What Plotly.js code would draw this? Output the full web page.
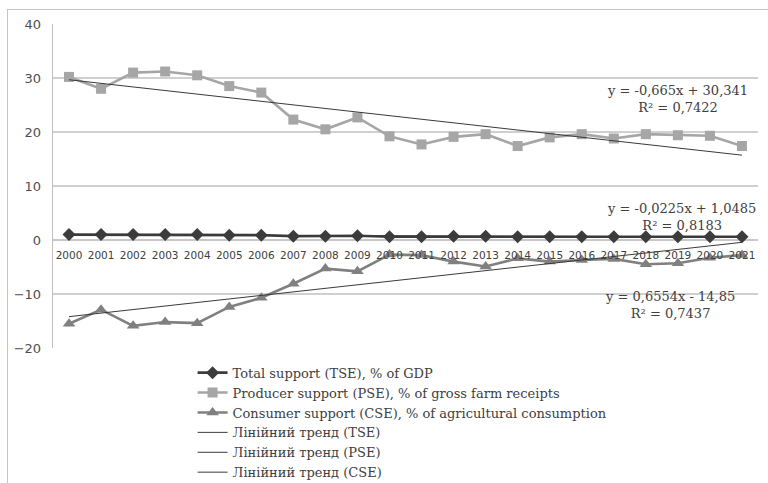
<!DOCTYPE html>
<html>
<head>
<meta charset="utf-8">
<script src="https://cdn.plot.ly/plotly-3.0.1.min.js"></script>
<style>
  html, body { margin: 0; padding: 0; background: #fff; width: 768px; height: 483px; overflow: hidden; }
  #frame { position: absolute; left: 7px; top: 9px; width: 820px; height: 540px; border: 1px solid #c4c4c4; }
  #chart { position: absolute; left: 0; top: 0; width: 768px; height: 483px; }
</style>
</head>
<body>
<div id="frame"></div>
<div id="chart"></div>
<script>
// Support estimates, 2000-2021
const years = ['2000','2001','2002','2003','2004','2005','2006','2007','2008','2009','2010',
               '2011','2012','2013','2014','2015','2016','2017','2018','2019','2020','2021'];
const tse = [1.0, 1.0, 1.0, 1.0, 1.0, 0.9, 0.9, 0.7, 0.7, 0.8, 0.6,
             0.6, 0.7, 0.7, 0.6, 0.6, 0.6, 0.6, 0.6, 0.6, 0.6, 0.6];
const pse = [30.2, 28.0, 31.0, 31.2, 30.5, 28.5, 27.3, 22.3, 20.5, 22.7, 19.2,
             17.7, 19.1, 19.6, 17.4, 19.0, 19.6, 18.8, 19.6, 19.4, 19.3, 17.4];
const cse = [-15.5, -12.9, -15.9, -15.2, -15.4, -12.4, -10.7, -8.1, -5.3, -5.8, -2.7,
             -2.8, -4.0, -4.9, -3.4, -4.0, -3.7, -3.5, -4.5, -4.3, -3.3, -2.8];

// Linear trend coefficients (x = 1..22)
const trendSlope = { TSE: -0.0225, PSE: -0.665, CSE: 0.6554 };
const trendIntercept = { TSE: 1.0485, PSE: 30.341, CSE: -14.85 };
const trendR2 = { TSE: '0,8183', PSE: '0,7422', CSE: '0,7437' };

const seriesNames = [
  'Total support (TSE), % of GDP',
  'Producer support (PSE), % of gross farm receipts',
  'Consumer support (CSE), % of agricultural consumption'
];
const trendNames = ['Лінійний тренд (TSE)', 'Лінійний тренд (PSE)', 'Лінійний тренд (CSE)'];

const yMin = -20, yMax = 40;

function trendLine(key) {
  return years.map((_, i) => trendSlope[key] * (i + 1) + trendIntercept[key]);
}
function fmt(v) { return String(Math.abs(v)).replace('.', ','); }
function eqText(key) {
  const a = trendSlope[key], b = trendIntercept[key];
  const sa = (a < 0 ? '-' : '') + fmt(a);
  const sb = (b < 0 ? ' - ' : ' + ') + fmt(b);
  return 'y = ' + sa + 'x' + sb + '<br>R² = ' + trendR2[key];
}

const cTSE = '#3c3c3c', cPSE = '#a6a6a6', cCSE = '#808080', cTrend = '#3a3a3a';

const traces = [
  { x: years, y: tse, name: seriesNames[0], type: 'scatter', mode: 'lines+markers',
    line: { color: cTSE, width: 2.6 }, marker: { symbol: 'diamond', size: 10, color: cTSE } },
  { x: years, y: pse, name: seriesNames[1], type: 'scatter', mode: 'lines+markers',
    line: { color: cPSE, width: 2.6 }, marker: { symbol: 'square', size: 10, color: cPSE } },
  { x: years, y: cse, name: seriesNames[2], type: 'scatter', mode: 'lines+markers',
    line: { color: cCSE, width: 2.6 }, marker: { symbol: 'triangle-up', size: 11, color: cCSE } },
  { x: years, y: trendLine('TSE'), name: trendNames[0], type: 'scatter', mode: 'lines',
    line: { color: cTrend, width: 1 } },
  { x: years, y: trendLine('PSE'), name: trendNames[1], type: 'scatter', mode: 'lines',
    line: { color: cTrend, width: 1 } },
  { x: years, y: trendLine('CSE'), name: trendNames[2], type: 'scatter', mode: 'lines',
    line: { color: cTrend, width: 1 } }
];

const serif = 'DejaVu Serif, Liberation Serif, serif';
const eqFont = { family: serif, size: 13, color: '#404040' };
const annotations = [
  { x: 19.0, y: 26.2, text: eqText('PSE') },
  { x: 19.1, y: 4.3, text: eqText('TSE') },
  { x: 18.75, y: -12.1, text: eqText('CSE') }
].map(a => Object.assign({ xref: 'x', yref: 'y', showarrow: false, align: 'center', font: eqFont }, a));

// x axis crosses the value axis at zero
const yDomain = [0, 1];
const zeroPos = yDomain[0] + (0 - yMin) / (yMax - yMin) * (yDomain[1] - yDomain[0]);

const layout = {
  width: 768, height: 483,
  margin: { l: 53, r: 10, t: 24, b: 135, autoexpand: false },
  paper_bgcolor: 'rgba(0,0,0,0)',
  plot_bgcolor: 'rgba(0,0,0,0)',
  showlegend: true,
  legend: {
    x: 0.198, y: -0.03, xanchor: 'left', yanchor: 'top',
    font: { family: serif, size: 13, color: '#404040' },
    itemwidth: 30, tracegroupgap: 0, bgcolor: 'rgba(0,0,0,0)'
  },
  xaxis: {
    type: 'category', range: [-0.5, 21.5],
    anchor: 'free', position: zeroPos,
    showgrid: false, showline: false, zeroline: false,
    ticks: '', ticklabelstandoff: 7,
    tickangle: 0,
    tickfont: { family: 'DejaVu Sans, Verdana, sans-serif', size: 10.5, color: '#404040' }
  },
  yaxis: {
    range: [yMin, yMax], dtick: 10, domain: yDomain,
    showgrid: true, gridcolor: '#d0d0d0', gridwidth: 1.3,
    zeroline: true, zerolinecolor: '#c8c8c8', zerolinewidth: 1.3,
    showline: true, linecolor: '#bfbfbf', linewidth: 1.3,
    ticks: 'outside', ticklen: 8, tickcolor: 'rgba(0,0,0,0)',
    tickfont: { family: 'DejaVu Sans, Verdana, sans-serif', size: 13, color: '#505050' }
  },
  annotations: annotations
};

Plotly.newPlot('chart', traces, layout, { displayModeBar: false, staticPlot: true });
</script>
</body>
</html>
